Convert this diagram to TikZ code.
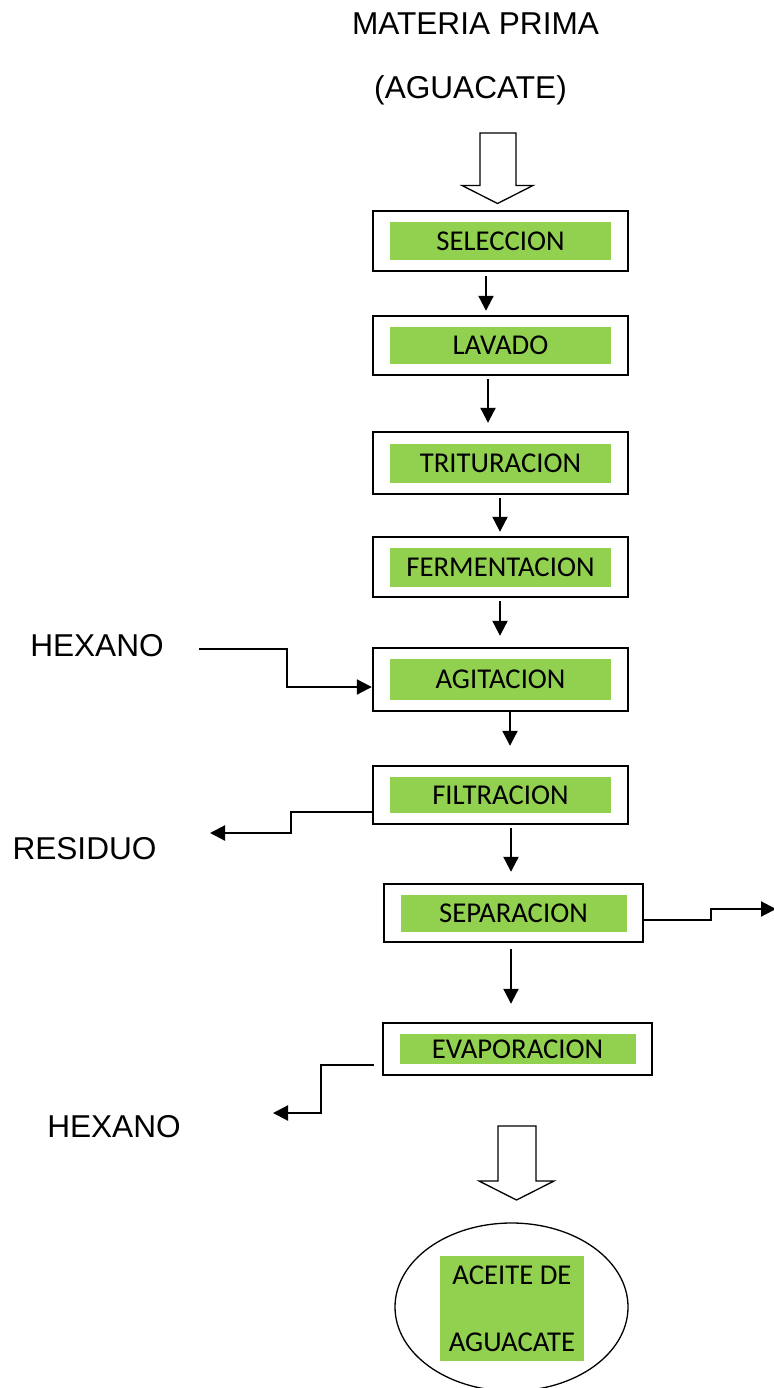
\documentclass[tikz,border=0pt]{standalone}
\usepackage{fontspec}
\usetikzlibrary{arrows.meta,shapes.geometric}
\newfontfamily\arialf{Liberation Sans}
\newfontfamily\calib{Carlito}
\definecolor{stagegreen}{HTML}{92D050}

\tikzset{
  lbl/.style={font=\arialf\fontsize{31.6}{38}\selectfont, inner sep=0pt},
  stageframe/.style={draw, line width=2.4pt, fill=white, inner sep=0pt},
  stagefill/.style={fill=stagegreen, inner sep=0pt, font=\calib\fontsize{28.7}{34}\selectfont},
  flow/.style={line width=2.1pt, -{Triangle[length=15pt,width=15pt]}},
  hollow/.style={draw, line width=1.3pt, fill=white, line join=miter},
}

% process stage: name, x, y, frame w, frame h, fill w, fill h, label
\newcommand{\stagebox}[8]{%
  \node[stageframe, minimum width=#4pt, minimum height=#5pt] (#1) at (#2,#3) {};
  \node[stagefill, minimum width=#6pt, minimum height=#7pt] (#1-fill) at (#1) {#8};}

\begin{document}
\begin{tikzpicture}[x=1pt,y=-1pt]
\fill[white] (0,0) rectangle (773,1388);
\useasboundingbox (0,0) rectangle (773,1388);

% raw material
\node[lbl, anchor=base] (mp) at (475.5,35) {MATERIA PRIMA};
\node[lbl, anchor=base] (mp2) at (470.5,99) {(AGUACATE)};

% feed arrow
\draw[hollow] (480,133) -- (516,133) -- (516,185.5) -- (533,185.5)
  -- (497.5,203.5) -- (462,185.5) -- (480,185.5) -- cycle;

% stages
\stagebox{sel}{500.5}{241}{255}{60}{221}{38}{SELECCION}
\stagebox{lav}{500.5}{345.5}{255}{59}{221}{37}{LAVADO}
\stagebox{tri}{500.5}{463}{255}{62}{221}{39}{TRITURACION}
\stagebox{fer}{500.5}{567}{255}{60}{221}{39}{FERMENTACION}
\stagebox{agi}{500.5}{679.5}{255}{63}{221}{41}{AGITACION}
\stagebox{fil}{500.5}{795}{255}{58}{221}{36}{FILTRACION}
\stagebox{sep}{513.5}{913}{259}{58}{226}{37}{SEPARACION}
\stagebox{eva}{517.5}{1049}{269}{52}{236}{30}{EVAPORACION}

% main flow
\draw[flow, shorten <=4pt, shorten >=4pt] ([xshift=-14.5pt]sel.south) -- ([xshift=-14.5pt]lav.north);
\draw[flow, shorten <=3pt, shorten >=8pt] ([xshift=-12.5pt]lav.south) -- ([xshift=-12.5pt]tri.north);
\draw[flow, shorten <=3pt, shorten >=4pt] ([xshift=-0.5pt]tri.south) -- ([xshift=-0.5pt]fer.north);
\draw[flow, shorten <=3pt, shorten >=11pt] ([xshift=-0.5pt]fer.south) -- ([xshift=-0.5pt]agi.north);
\draw[flow, shorten >=19pt] ([xshift=9.5pt]agi.south) -- ([xshift=9.5pt]fil.north);
\draw[flow, shorten <=3pt, shorten >=11pt] ([xshift=10.5pt]fil.south) -- ([xshift=-2.5pt]sep.north);
\draw[flow, shorten <=6pt, shorten >=18pt] ([xshift=-2.5pt]sep.south) -- ([xshift=-6.5pt]eva.north);

% solvent feed
\node[lbl, anchor=base] (hexa) at (97,656) {HEXANO};
\coordinate (hexin) at (199,649);
\draw[flow] (hexin) -- ++(88,0) |- ([yshift=-7.5pt]agi.west);

% filter residue
\node[lbl, anchor=base] (res) at (84.5,859) {RESIDUO};
\coordinate (resout) at (210,833);
\draw[flow] ([yshift=-17pt]fil.west) -- ++(-81,0) |- (resout);

% separation outlet
\coordinate (sepout) at (776,909);
\draw[flow] ([yshift=-7pt]sep.east) -- ++(67,0) |- (sepout);

% recovered solvent
\node[lbl, anchor=base] (hexb) at (114,1137) {HEXANO};
\coordinate (evaout) at (273,1113);
\draw[flow] ([xshift=-8pt,yshift=-16pt]eva.west) -- ++(-53,0) |- (evaout);

% product arrow
\draw[hollow] (498,1126) -- (536,1126) -- (536,1181) -- (554,1181)
  -- (516.5,1200) -- (479,1181) -- (498,1181) -- cycle;

% product
\node[draw, ellipse, line width=1.3pt, minimum width=233pt, minimum height=168pt, inner sep=0pt] (oil) at (511.5,1307) {};
\node[stagefill, minimum width=144pt, minimum height=105pt, align=center,
  font=\calib\fontsize{28.7}{67}\selectfont] (oil-fill) at (512,1308.5) {ACEITE DE\\AGUACATE};
\end{tikzpicture}
\end{document}
